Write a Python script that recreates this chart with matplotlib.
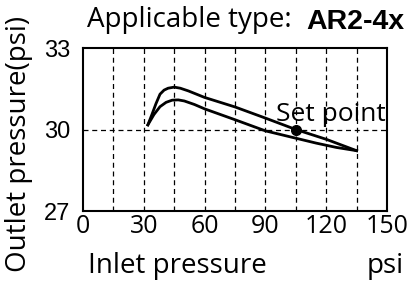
import matplotlib
matplotlib.use("Agg")
import matplotlib.pyplot as plt

x_ticks = [0, 30, 60, 90, 120, 150]
y_ticks = [27, 30, 33]
grid_x = [15, 30, 45, 60, 75, 90, 105, 120, 135]
grid_y = [30]

upper_x = [32, 34, 36, 38, 40, 42, 45, 48, 52, 56, 60, 75, 90, 105, 120, 135]
upper_y = [30.17, 30.55, 30.95, 31.3, 31.45, 31.52, 31.56, 31.52, 31.42, 31.3, 31.18, 30.83, 30.42, 30.0, 29.64, 29.22]

lower_x = [32, 35, 38, 41, 44, 47, 50, 55, 60, 75, 90, 105, 115, 120, 125, 130, 135]
lower_y = [30.17, 30.55, 30.84, 31.0, 31.08, 31.09, 31.05, 30.92, 30.76, 30.36, 29.95, 29.68, 29.5, 29.42, 29.34, 29.28, 29.22]

set_point = (105, 30.0)

HUM = ['Open Sans', 'DejaVu Sans']
ARIAL = ['Liberation Sans', 'DejaVu Sans']
plt.rcParams['font.family'] = HUM

W, H = 419, 282
fig = plt.figure(figsize=(W / 100, H / 100), dpi=100)
ax = fig.add_axes([83 / W, 1 - 211 / H, (387 - 83) / W, (211 - 48) / H])

for gx in grid_x:
    ax.axvline(gx, color='black', lw=0.9, ls=(0, (4, 3)), zorder=1)
for gy in grid_y:
    ax.axhline(gy, color='black', lw=0.9, ls=(0, (4, 3)), zorder=1)

ax.plot(upper_x, upper_y, color='black', lw=2, zorder=3, solid_joinstyle='round')
ax.plot(lower_x, lower_y, color='black', lw=2, zorder=3, solid_joinstyle='round')
ax.plot([set_point[0]], [set_point[1]], 'o', color='black', ms=7, zorder=4)
ax.text(95.2, 30.33, 'Set point', fontsize=19, ha='left', va='baseline', family=HUM)

ax.set_xlim(0, 150)
ax.set_ylim(27, 33)
ax.set_xticks(x_ticks)
ax.set_yticks(y_ticks)
ax.tick_params(length=0)
ax.tick_params(axis='x', labelsize=18, pad=2)
ax.tick_params(axis='y', labelsize=17, pad=9)
for lab in ax.get_xticklabels():
    lab.set_family(HUM)
for lab in ax.get_yticklabels():
    lab.set_family(ARIAL)
for s in ax.spines.values():
    s.set_linewidth(1.5)

fig.text(88 / W, 1 - 273 / H, 'Inlet pressure', fontsize=20, ha='left', va='baseline', family=HUM)
fig.text(404 / W, 1 - 273 / H, 'psi', fontsize=20, ha='right', va='baseline', family=HUM)
fig.text(5 / W, 1 - 144 / H, 'Outlet pressure(psi)', fontsize=20, rotation=90,
         ha='left', va='center', family=HUM)
fig.text(87 / W, 1 - 27.5 / H, 'Applicable type:', fontsize=20, ha='left', va='baseline', family=HUM)
fig.text(306 / W, 1 - 29 / H, 'AR2-4x', fontsize=20.5, ha='left', va='baseline',
         fontweight='bold', family=ARIAL)

fig.savefig('out.png', dpi=100)
